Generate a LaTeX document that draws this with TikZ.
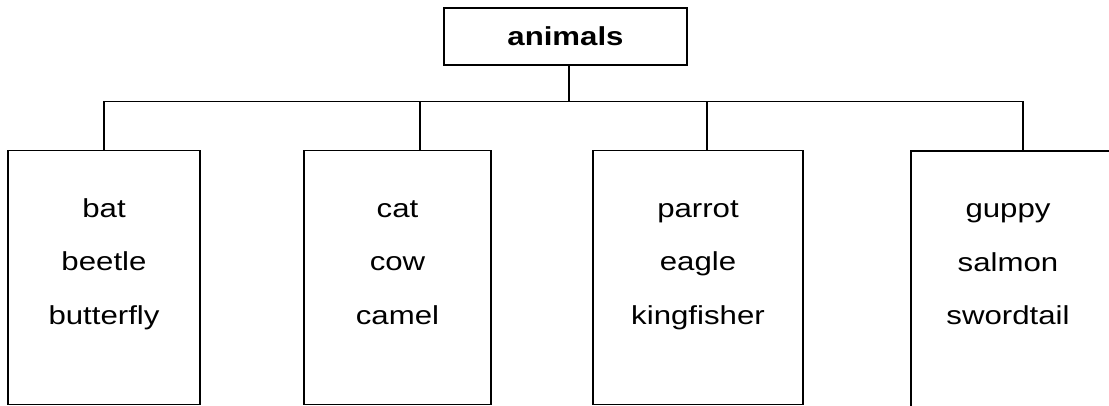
\documentclass[tikz,border=0pt]{standalone}
\usepackage{fontspec}
\setmainfont{Liberation Sans}[FakeStretch=1.2]
\usetikzlibrary{positioning}

\begin{document}
\begin{tikzpicture}[x=0.5pt, y=-0.5pt, line width=0.9pt,
  group/.style={draw, rectangle, inner sep=0pt, minimum height=127pt},
  members/.style={anchor=north, align=center, inner sep=0pt, yshift=-24pt,
    font=\fontsize{13}{26.75}\selectfont}]
\useasboundingbox (0,0) rectangle (1109,406);
% Top
\node[draw, rectangle, minimum width=121.5pt, minimum height=28.5pt, font=\fontsize{13}{15}\selectfont\bfseries] (animals) at (565.5,36.5) {animals};

% Groups
\node[group, minimum width=96pt, label={[members]north:bat\\beetle\\butterfly}] (bats) at (104,277.5) {};
\node[group, minimum width=93.5pt, label={[members]north:\vphantom{b}cat\\cow\\camel}] (cats) at (397.5,277.5) {};
\node[group, minimum width=105pt, label={[members]north:\vphantom{b}parrot\\eagle\\kingfisher}] (birds) at (698,277.5) {};
\node[group, minimum width=102pt, minimum height=130.5pt, label={[members, xshift=-2.5pt]north:\vphantom{b}guppy\\salmon\\swordtail}] (fish) at (1013,281.5) {};

% Lines
\draw (bats.north) -- ++(0,24pt) coordinate (bus) -| ([xshift=5pt]fish.north);
\draw ([xshift=1.75pt]animals.south) |- (bus);
\draw ([xshift=11.25pt]cats.north) |- (bus);
\draw ([xshift=4.5pt]birds.north) |- (bus);
\end{tikzpicture}
\end{document}
